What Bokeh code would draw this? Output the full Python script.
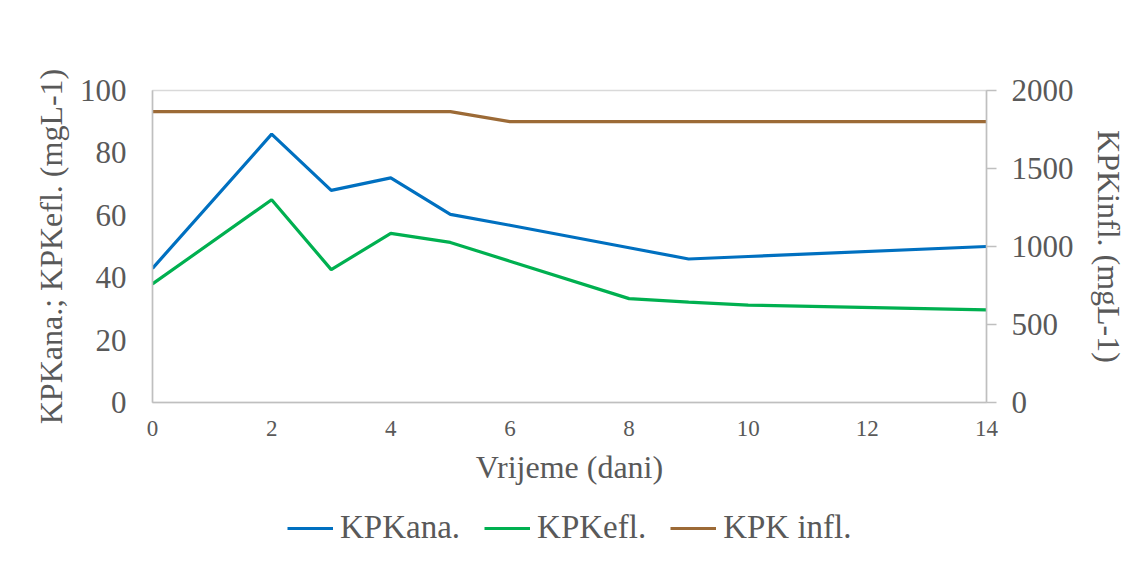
from bokeh.plotting import figure
from bokeh.models import Range1d, LinearAxis, Legend, LegendItem, FixedTicker
from bokeh.layouts import column
from bokeh.embed import file_html
from bokeh.resources import INLINE

# ---- data ----
days = [0, 2, 3, 4, 5, 6, 8, 9, 10, 14]
kpk_ana = [43, 86, 68, 72, 60.3, 56.8, 49.6, 46, 46.8, 50]
kpk_efl = [38, 65, 42.6, 54.2, 51.3, 45.3, 33.3, 32.2, 31.2, 29.7]
kpk_infl = [1865, 1865, 1865, 1865, 1865, 1800, 1800, 1800, 1800, 1800]

x_ticks = [0, 2, 4, 6, 8, 10, 12, 14]
left_ticks = [0, 20, 40, 60, 80, 100]
right_ticks = [0, 500, 1000, 1500, 2000]

labels = ["KPKana.", "KPKefl.", "KPK infl."]
colors = ["#0070C0", "#00B050", "#9C6A36"]

FONT = "Liberation Serif"
TXT = "#595959"
AX = "#bfbfbf"

p = figure(width=1130, height=496, output_backend="svg", toolbar_location=None,
           x_range=Range1d(0, 14), y_range=Range1d(0, 100),
           min_border_left=152, min_border_right=144, min_border_top=90,
           min_border_bottom=94)
p.extra_y_ranges = {"infl": Range1d(0, 2000)}

p.xgrid.visible = False
p.ygrid.visible = False
p.outline_line_color = "#d9d9d9"
p.outline_line_width = 1.5

# bottom axis
xa = p.xaxis[0]
xa.ticker = FixedTicker(ticks=x_ticks)
xa.axis_label = "Vrijeme (dani)"
xa.major_tick_out = 0
xa.major_tick_in = 0
xa.minor_tick_out = 0
xa.minor_tick_in = 0
xa.axis_line_color = AX
xa.axis_line_width = 1.5
xa.major_label_text_font = FONT
xa.major_label_text_font_size = "23px"
xa.major_label_text_color = TXT
xa.major_label_standoff = 18
xa.axis_label_text_font = FONT
xa.axis_label_text_font_size = "32px"
xa.axis_label_text_font_style = "normal"
xa.axis_label_text_color = TXT
xa.axis_label_standoff = 10

# left axis
ya = p.yaxis[0]
ya.ticker = FixedTicker(ticks=left_ticks)
ya.axis_label = "KPKana.; KPKefl. (mgL-1)"
ya.major_tick_out = 0
ya.major_tick_in = 0
ya.minor_tick_out = 0
ya.minor_tick_in = 0
ya.axis_line_color = AX
ya.axis_line_width = 1.5
ya.major_label_text_font = FONT
ya.major_label_text_font_size = "31px"
ya.major_label_text_color = TXT
ya.major_label_standoff = 26
ya.axis_label_text_font = FONT
ya.axis_label_text_font_size = "32px"
ya.axis_label_text_font_style = "normal"
ya.axis_label_text_color = TXT
ya.axis_label_standoff = 8

# right axis
ra = LinearAxis(y_range_name="infl", ticker=FixedTicker(ticks=right_ticks),
                axis_label="KPKinfl. (mgL-1)")
ra.major_tick_out = 10
ra.major_tick_in = 0
ra.minor_tick_out = 0
ra.minor_tick_in = 0
ra.major_tick_line_color = AX
ra.major_tick_line_width = 1.5
ra.axis_line_color = AX
ra.axis_line_width = 1.5
ra.major_label_text_font = FONT
ra.major_label_text_font_size = "31px"
ra.major_label_text_color = TXT
ra.major_label_standoff = 15
ra.axis_label_text_font = FONT
ra.axis_label_text_font_size = "32px"
ra.axis_label_text_font_style = "normal"
ra.axis_label_text_color = TXT
ra.axis_label_standoff = 14
p.add_layout(ra, "right")

series = [kpk_ana, kpk_efl, kpk_infl]
p.line(days, kpk_ana, line_color=colors[0], line_width=3.2)
p.line(days, kpk_efl, line_color=colors[1], line_width=3.2)
p.line(days, kpk_infl, line_color=colors[2], line_width=3.2, y_range_name="infl")

# legend strip below the chart (its own copies of the series lie outside its view)
lg = figure(width=1130, height=57, output_backend="svg", toolbar_location=None,
            x_range=Range1d(0, 14), y_range=Range1d(-2, -1), min_border=0)
lg.axis.visible = False
lg.grid.visible = False
lg.outline_line_color = None
items = []
for lab, col, ys in zip(labels, colors, series):
    r = lg.line(days, ys, line_color=col, line_width=3.2)
    items.append(LegendItem(label=lab, renderers=[r]))
legend = Legend(items=items, orientation="horizontal", location=(135, 7))
legend.label_text_font = FONT
legend.label_text_font_size = "33px"
legend.label_text_color = TXT
legend.glyph_width = 46
legend.label_standoff = 7
legend.spacing = 24
legend.padding = 0
legend.margin = 0
legend.border_line_color = None
legend.background_fill_alpha = 0
lg.add_layout(legend)

layout = column(p, lg, spacing=0)
open("out.html", "w").write(file_html(layout, INLINE))
